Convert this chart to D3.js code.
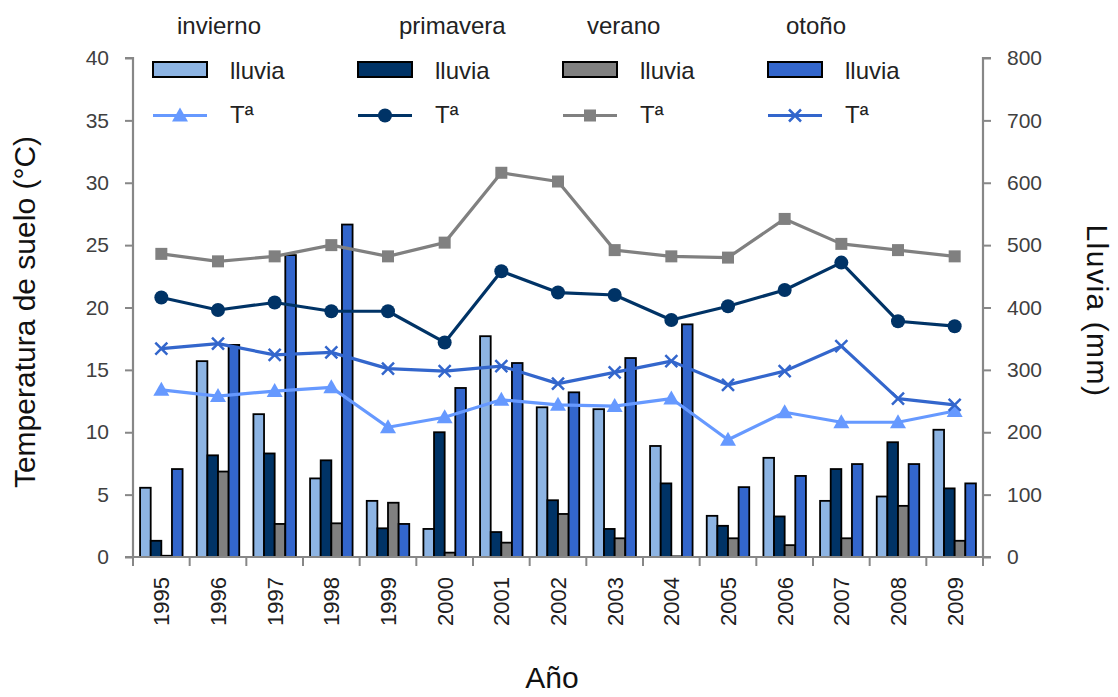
<!DOCTYPE html>
<html><head><meta charset="utf-8">
<script src="https://cdn.jsdelivr.net/npm/d3@7"></script>
<style>body{margin:0;background:#fff}svg{display:block}text{font-family:"Liberation Sans",Arial,sans-serif}</style>
</head><body><svg id="c" width="1118" height="697"></svg>
<script>
const years=["1995","1996","1997","1998","1999","2000","2001","2002","2003","2004","2005","2006","2007","2008","2009"];
const seasons=["invierno","primavera","verano","otoño"];
const rainInvierno=[111,314,229,126,90,45,354,240,237,178,66,159,90,97,204];
const rainPrimavera=[26,163,166,155,46,200,40,91,45,118,50,65,141,184,110];
const rainVerano=[2,137,53,54,87,7,23,69,30,1,30,19,30,82,26];
const rainOtono=[141,340,484,533,53,271,311,264,319,373,112,130,149,149,118];
const tInvierno=[13.4,12.9,13.3,13.6,10.4,11.2,12.6,12.2,12.1,12.7,9.4,11.6,10.8,10.8,11.7];
const tPrimavera=[20.8,19.8,20.4,19.7,19.7,17.2,22.9,21.2,21.0,19.0,20.1,21.4,23.6,18.9,18.5];
const tVerano=[24.3,23.7,24.1,25.0,24.1,25.2,30.8,30.1,24.6,24.1,24.0,27.1,25.1,24.6,24.1];
const tOtono=[16.7,17.1,16.2,16.4,15.1,14.9,15.3,13.9,14.8,15.7,13.8,14.9,16.9,12.7,12.2];
const tempTicks=[0,5,10,15,20,25,30,35,40];
const rainTicks=[0,100,200,300,400,500,600,700,800];

const rain=[rainInvierno,rainPrimavera,rainVerano,rainOtono];
const temp=[tInvierno,tPrimavera,tVerano,tOtono];
const barColors=["#8DB4E3","#003366","#808080","#3366CC"];
const lineColors=["#6699FF","#003366","#808080","#3366CC"];
const markers=["triangle","circle","square","x"];

const svg=d3.select("#c");
const L=133,R=983,T=58,B=557;
const x0=d3.scaleBand().domain(years).range([L,R]).paddingInner(0.25).paddingOuter(0.125);
const x1=d3.scaleBand().domain(seasons).range([0,x0.bandwidth()]);
const yT=d3.scaleLinear().domain([0,40]).range([B,T]);
const yR=d3.scaleLinear().domain([0,800]).range([B,T]);
const axisCol="#878787";

// bars
seasons.forEach((s,si)=>{
  svg.append("g").selectAll("rect").data(years).join("rect")
    .attr("x",d=>x0(d)+x1(s)).attr("width",x1.bandwidth())
    .attr("y",(d,i)=>yR(rain[si][i])).attr("height",(d,i)=>B-yR(rain[si][i]))
    .attr("fill",barColors[si]).attr("stroke","#000").attr("stroke-width",1.8);
});

// axes
const gl=svg.append("g").attr("transform",`translate(${L},0)`)
  .call(d3.axisLeft(yT).tickValues(tempTicks).tickSize(8).tickPadding(16));
const gr=svg.append("g").attr("transform",`translate(${R},0)`)
  .call(d3.axisRight(yR).tickValues(rainTicks).tickSize(8).tickPadding(16));
[gl,gr].forEach(g=>{
  g.select(".domain").attr("stroke",axisCol).attr("stroke-width",2.2);
  g.selectAll(".tick line").attr("stroke",axisCol).attr("stroke-width",2);
  g.selectAll(".tick text").attr("font-size",21).attr("fill","#404040").attr("font-family","Liberation Sans, Arial, sans-serif");
});
gl.select(".domain").attr("d",`M-8,${T}H0V${B}H-8`);
gr.select(".domain").attr("d",`M8,${T}H0V${B}H8`);

const gb=svg.append("g").attr("transform",`translate(0,${B})`)
  .call(d3.axisBottom(x0).tickSize(0).tickPadding(0));
gb.select(".domain").attr("stroke",axisCol).attr("stroke-width",2.2).attr("d",`M${L},0H${R}`);
gb.selectAll(".tick text").attr("font-size",22).attr("fill","#202020")
  .attr("font-family","Liberation Sans, Arial, sans-serif")
  .attr("text-anchor","end").attr("transform","translate(8,20) rotate(-90)").attr("dy",0);
const bounds=d3.range(years.length+1).map(i=>L+i*x0.step());
gb.append("g").selectAll("line").data(bounds).join("line")
  .attr("x1",d=>d).attr("x2",d=>d).attr("y1",0).attr("y2",9)
  .attr("stroke",axisCol).attr("stroke-width",2);

// lines
function drawMarker(g,type,color,cx,cy){
  if(type==="circle") g.append("circle").attr("cx",cx).attr("cy",cy).attr("r",7).attr("fill",color);
  else if(type==="square") g.append("rect").attr("x",cx-6).attr("y",cy-6).attr("width",12).attr("height",12).attr("fill",color);
  else if(type==="triangle") g.append("path").attr("d",`M${cx},${cy-8}L${cx+8},${cy+6}L${cx-8},${cy+6}Z`).attr("fill",color);
  else g.append("path").attr("d",`M${cx-6},${cy-6}L${cx+6},${cy+6}M${cx+6},${cy-6}L${cx-6},${cy+6}`).attr("stroke",color).attr("stroke-width",2.5);
}
const cxOf=d=>x0(d)+x0.bandwidth()/2;
seasons.forEach((s,si)=>{
  const g=svg.append("g");
  const line=d3.line().x((d,i)=>cxOf(years[i])).y(d=>yT(d));
  g.append("path").datum(temp[si]).attr("d",line).attr("fill","none")
    .attr("stroke",lineColors[si]).attr("stroke-width",3.2).attr("stroke-linejoin","round");
  temp[si].forEach((v,i)=>drawMarker(g,markers[si],lineColors[si],cxOf(years[i]),yT(v)));
});

// legend
const legX=[153,358,563,768];
const titleX=[177,399,587,786];
seasons.forEach((s,si)=>{
  svg.append("text").attr("x",titleX[si]).attr("y",34).attr("font-size",24).attr("fill","#222").text(s);
  svg.append("rect").attr("x",legX[si]).attr("y",62).attr("width",54).attr("height",15)
    .attr("fill",barColors[si]).attr("stroke","#000").attr("stroke-width",2);
  svg.append("text").attr("x",legX[si]+77).attr("y",79).attr("font-size",24).attr("fill","#222").text("lluvia");
  const g=svg.append("g");
  g.append("line").attr("x1",legX[si]).attr("x2",legX[si]+54).attr("y1",115.5).attr("y2",115.5)
    .attr("stroke",lineColors[si]).attr("stroke-width",3.2);
  drawMarker(g,markers[si],lineColors[si],legX[si]+27,115.5);
  svg.append("text").attr("x",legX[si]+77).attr("y",123).attr("font-size",24).attr("fill","#222").text("Tª");
});

// titles
svg.append("text").attr("transform","translate(35,312) rotate(-90)").attr("text-anchor","middle")
  .attr("font-size",30).attr("fill","#111").text("Temperatura de suelo (°C)");
svg.append("text").attr("transform","translate(1087,311) rotate(90)").attr("text-anchor","middle")
  .attr("font-size",30).attr("letter-spacing",1.5).attr("fill","#111").text("Lluvia (mm)");
svg.append("text").attr("x",552).attr("y",688).attr("text-anchor","middle")
  .attr("font-size",30).attr("fill","#111").text("Año");
</script></body></html>
